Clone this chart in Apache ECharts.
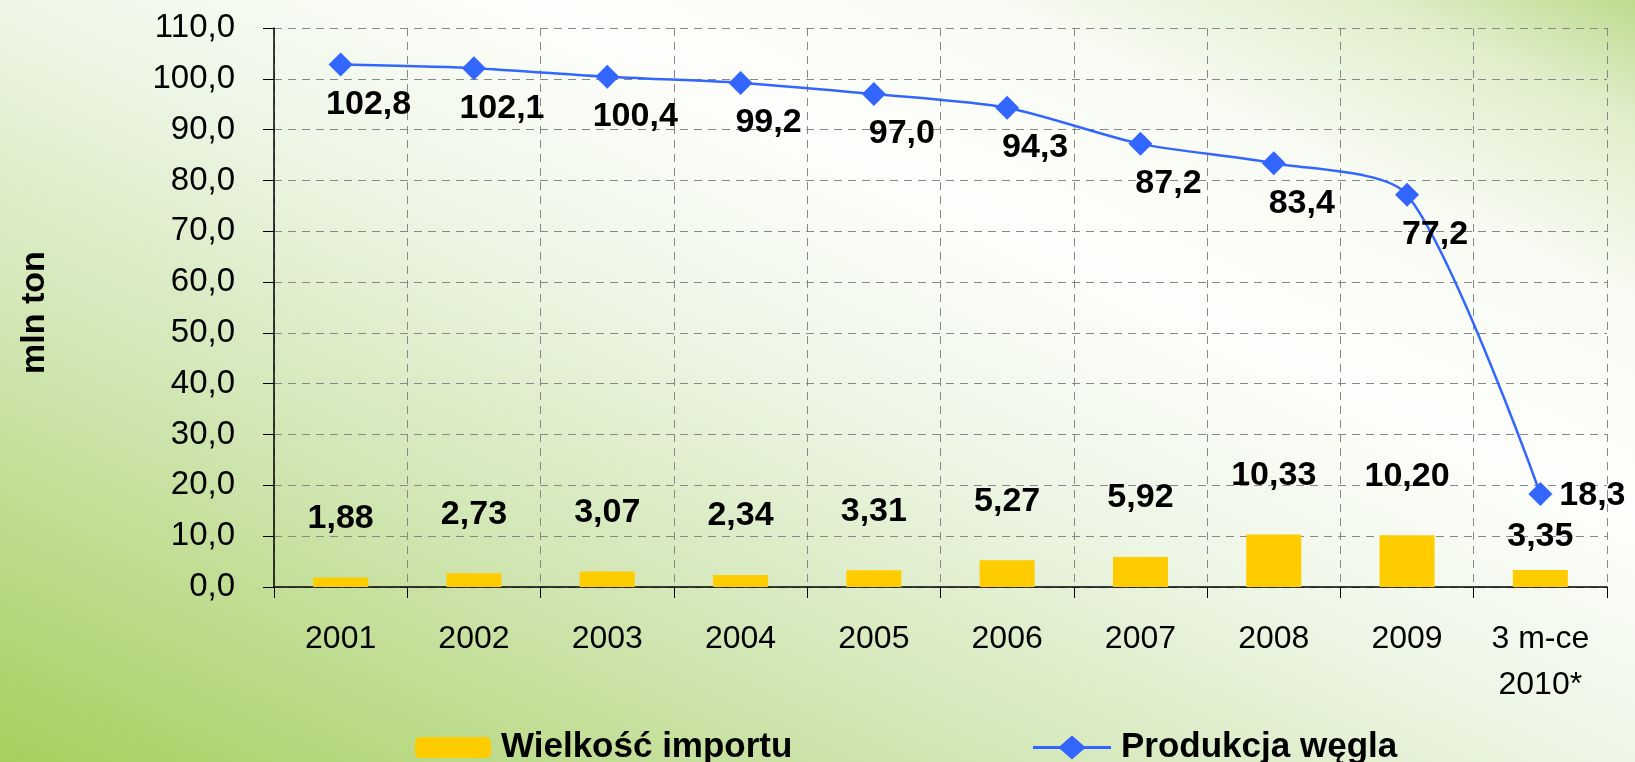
<!DOCTYPE html>
<html>
<head>
<meta charset="utf-8">
<script src="https://cdn.jsdelivr.net/npm/echarts@6/dist/echarts.min.js"></script>
<style>
  html, body { margin: 0; padding: 0; }
  #canvas { width: 1635px; height: 762px; }
</style>
</head>
<body>
<div id="canvas"></div>
<script>
// data
var years = ['2001', '2002', '2003', '2004', '2005', '2006', '2007', '2008', '2009', '3 m-ce\n2010*'];
var importVals = [1.88, 2.73, 3.07, 2.34, 3.31, 5.27, 5.92, 10.33, 10.20, 3.35];
var productionVals = [102.8, 102.1, 100.4, 99.2, 97.0, 94.3, 87.2, 83.4, 77.2, 18.3];
var yMin = 0, yMax = 110, yStep = 10;

var FONT = '"Liberation Sans", Arial, sans-serif';

var comma = function (v, d) {
    return Number(v).toFixed(d).replace('.', ',');
};

var load_chart = function () {
    var myChart = echarts.init(document.getElementById('canvas'), null, {renderer: 'canvas'});

    // last point (partial year) gets its label on the right
    var lineData = productionVals.map(function (v, i) {
        if (i == productionVals.length - 1) {
            return {value: v, label: {position: 'right', offset: [2, 2]}};
        }
        return v;
    });
    var barData = importVals.map(function (v, i) {
        if (i == importVals.length - 1) {
            return {value: v, label: {distance: 16}};
        }
        return v;
    });

    var legendText = {fontFamily: FONT, fontSize: 35, fontWeight: 'bold', color: '#000', padding: [0, 0, 0, 5]};
    // line + diamond, like the excel legend key
    var lineKey = 'path://M0,10.5L27,10.5L39,0L51,10.5L78,10.5L78,13.5L51,13.5L39,24L27,13.5L0,13.5Z';

    var option = {
        // white band along the top-left / bottom-right diagonal, green corners
        backgroundColor: new echarts.graphic.LinearGradient(526, 1007, 1109, -245, [
            {offset: 0, color: '#a6cf5e'},
            {offset: 0.28, color: '#cfe5b0'},
            {offset: 0.5, color: '#eef6e6'},
            {offset: 0.66, color: '#fdfefb'},
            {offset: 0.8, color: '#f8fbf3'},
            {offset: 0.92, color: '#e0eecb'},
            {offset: 1, color: '#bddb8e'}
        ], true),
        textStyle: {fontFamily: FONT},
        animation: false,
        grid: {left: 274, right: 28, top: 28, bottom: 175, containLabel: false},
        legend: [{
            data: ['Wielkość importu'],
            left: 410,
            top: 725,
            itemWidth: 76,
            itemHeight: 21,
            textStyle: legendText
        }, {
            data: [{name: 'Produkcja węgla', icon: lineKey}],
            left: 1028,
            top: 725,
            itemWidth: 78,
            itemHeight: 24,
            textStyle: legendText
        }],
        xAxis: {
            type: 'category',
            data: years,
            boundaryGap: true,
            axisLine: {lineStyle: {color: '#000', width: 1.5}},
            axisTick: {show: true, interval: 0, length: 11, lineStyle: {color: '#000'}},
            axisLabel: {interval: 0, color: '#000', fontSize: 32, lineHeight: 46, margin: 29},
            splitLine: {show: true, interval: 0, lineStyle: {color: '#888', type: [8, 6], width: 1}}
        },
        yAxis: {
            type: 'value',
            min: yMin,
            max: yMax,
            interval: yStep,
            name: 'mln ton',
            nameLocation: 'middle',
            nameRotate: 90,
            nameGap: 222,
            nameTextStyle: {fontSize: 34, fontWeight: 'bold', color: '#000', padding: [0, 10, 0, 0]},
            axisLine: {show: true, lineStyle: {color: '#000', width: 1.5}},
            axisTick: {show: true, length: 11, lineStyle: {color: '#000'}},
            axisLabel: {color: '#000', fontSize: 33, margin: 39, formatter: function (v) { return comma(v, 1); }},
            splitLine: {show: true, lineStyle: {color: '#888', type: [8, 6], width: 1}}
        },
        series: [
            {
                name: 'Wielkość importu',
                type: 'bar',
                data: barData,
                barWidth: 55,
                itemStyle: {color: '#ffcc00'},
                label: {
                    show: true,
                    position: 'top',
                    distance: 42,
                    color: '#000',
                    fontSize: 34,
                    fontWeight: 'bold',
                    formatter: function (p) { return comma(p.value, 2); }
                }
            },
            {
                name: 'Produkcja węgla',
                type: 'line',
                data: lineData,
                smooth: 0.25,
                symbol: 'diamond',
                symbolSize: 24,
                itemStyle: {color: '#3366ff'},
                lineStyle: {color: '#3366ff', width: 2.5},
                label: {
                    show: true,
                    position: 'inside',
                    offset: [28, 40],
                    color: '#000',
                    fontSize: 34,
                    fontWeight: 'bold',
                    formatter: function (p) { return comma(p.value, 1); }
                }
            }
        ]
    };
    myChart.setOption(option);
};

load_chart();
</script>
</body>
</html>
